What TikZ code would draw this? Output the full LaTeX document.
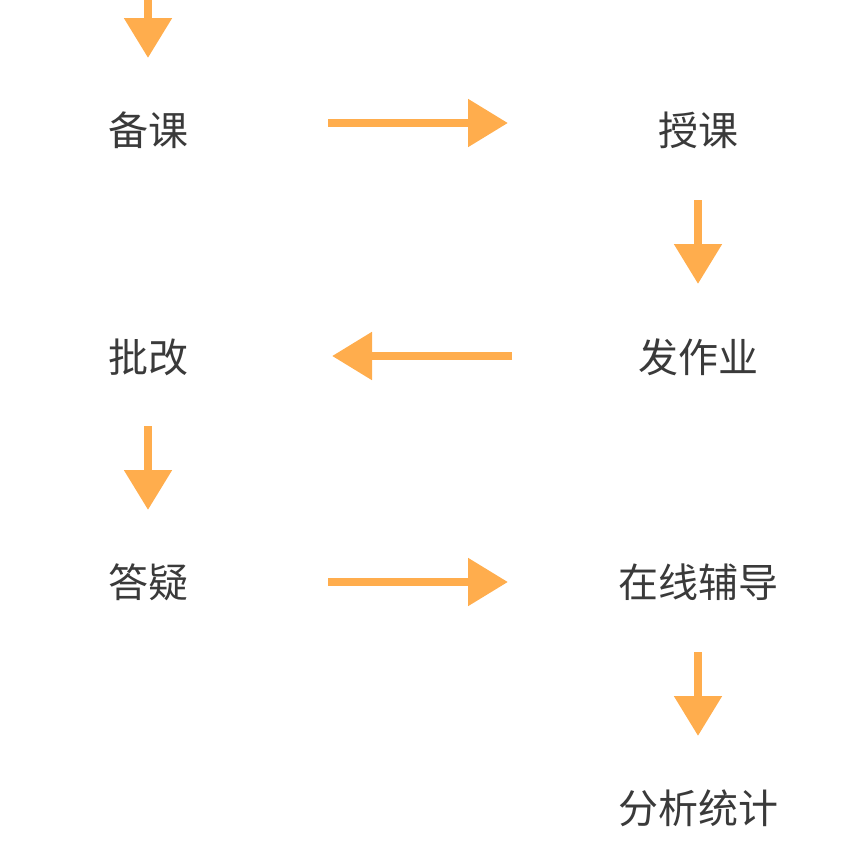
\documentclass[tikz,border=0pt]{standalone}
\usepackage{fontspec}
\newfontfamily\cjk{Noto Sans CJK SC}
\usetikzlibrary{arrows.meta}
\definecolor{arrowc}{HTML}{FFAD4D}
\definecolor{textc}{HTML}{3A3A3A}
\tikzset{
  lbl/.style={inner sep=0pt, text=textc, font=\cjk\fontsize{40}{48}\selectfont},
  flow/.style={draw=arrowc, line width=8.5pt, -{Triangle[length=40pt,width=46pt]}}
}
\begin{document}
\begin{tikzpicture}[x=1pt,y=-1pt]
\useasboundingbox (0,0) rectangle (846,860);
\coordinate (top) at (148,0);
\node[lbl] (bk) at (148,130) {备课};
\node[lbl] (sk) at (698,130) {授课};
\node[lbl] (pg) at (148,357) {批改};
\node[lbl] (fzy) at (698,357) {发作业};
\node[lbl] (dy) at (148,582) {答疑};
\node[lbl] (zx) at (698,582) {在线辅导};
\node[lbl] (fx) at (698,808) {分析统计};
\draw[flow, shorten >=72pt] (top) -- (bk.center);
\draw[flow, shorten <=180pt, shorten >=190pt] ([yshift=7pt]bk.center) -- ([yshift=7pt]sk.center);
\draw[flow, shorten <=70pt, shorten >=73pt] (sk.center) -- (fzy.center);
\draw[flow, shorten <=186pt, shorten >=184pt] ([yshift=1pt]fzy.center) -- ([yshift=1pt]pg.center);
\draw[flow, shorten <=69pt, shorten >=72pt] (pg.center) -- (dy.center);
\draw[flow, shorten <=180pt, shorten >=190pt] (dy.center) -- (zx.center);
\draw[flow, shorten <=70pt, shorten >=72pt] (zx.center) -- (fx.center);
\end{tikzpicture}
\end{document}
